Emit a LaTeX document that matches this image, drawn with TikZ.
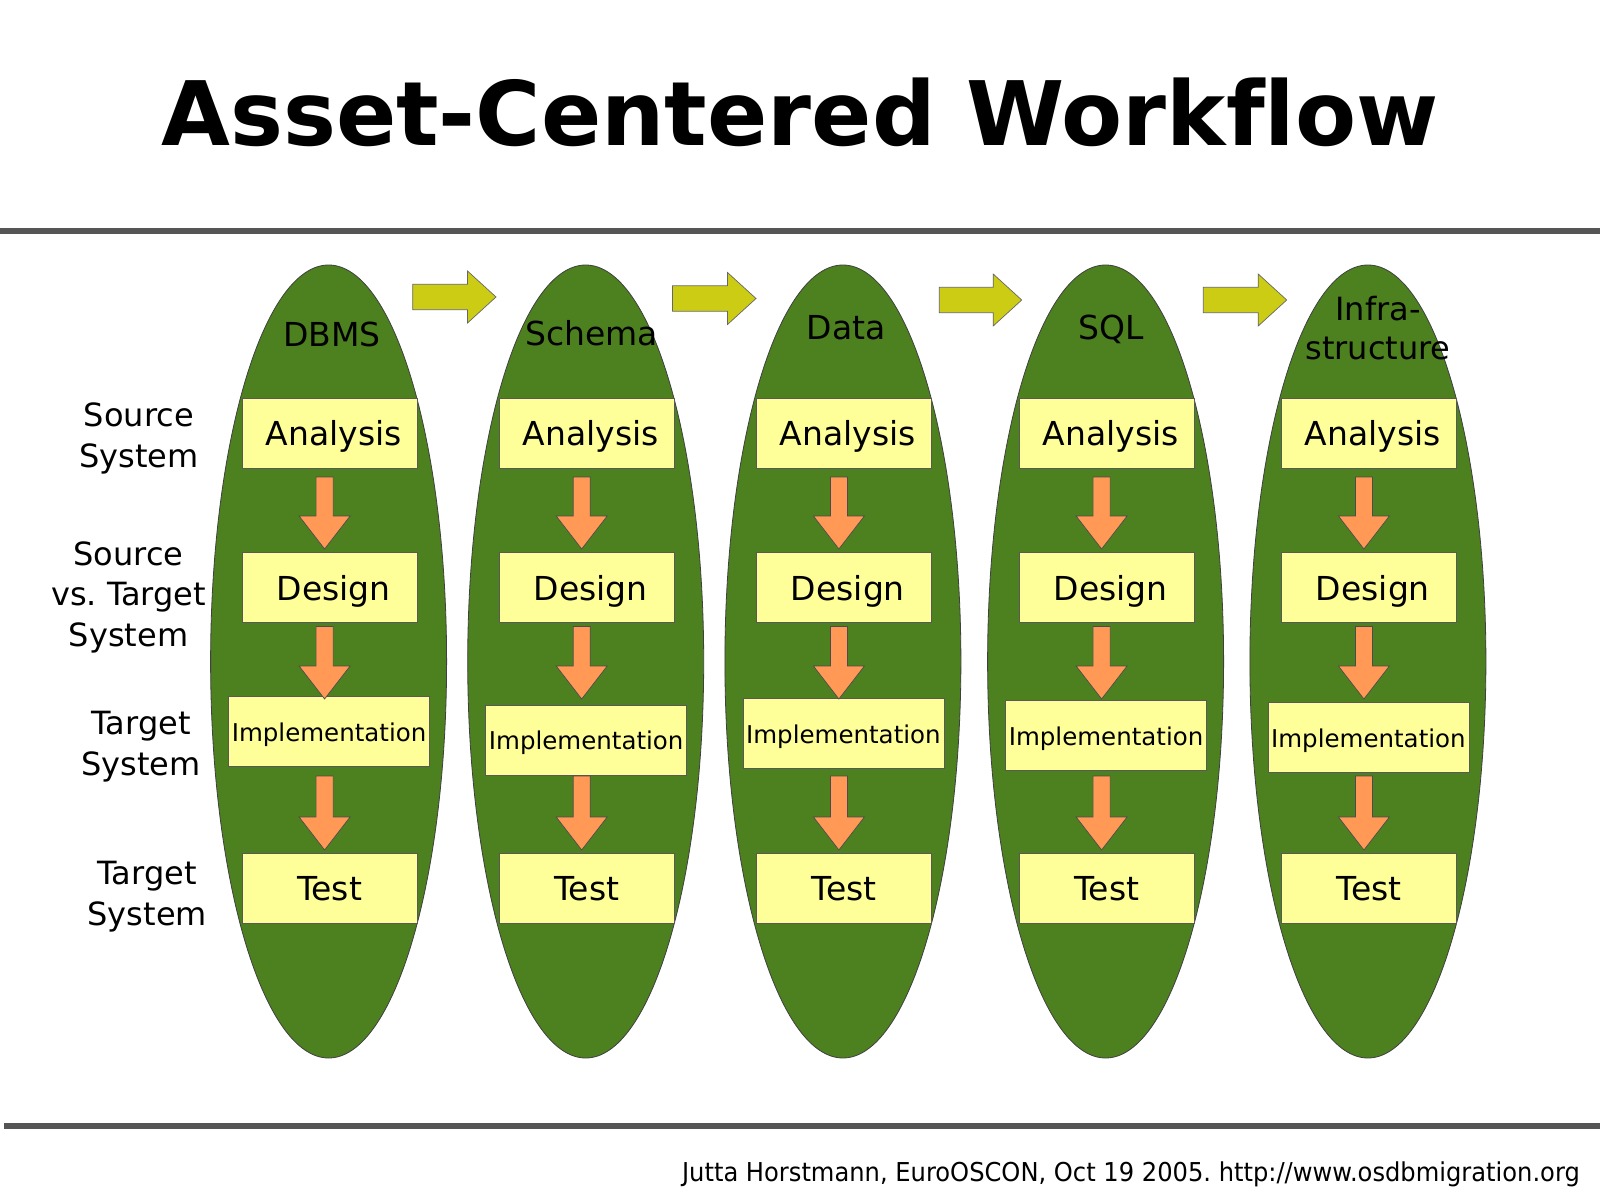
\documentclass[tikz,border=0pt]{standalone}
\usepackage{fontspec}
\setmainfont[Ligatures=NoCommon]{DejaVu Sans}
\newfontfamily\footfont[FakeStretch=0.93]{DejaVu Sans}
\usetikzlibrary{shapes.geometric,calc}
\frenchspacing
\definecolor{leaf}{RGB}{77,128,31}
\definecolor{boxyellow}{RGB}{255,255,153}
\definecolor{arrorange}{RGB}{255,153,85}
\definecolor{arrolive}{RGB}{204,204,20}
\definecolor{rulegray}{RGB}{85,85,85}
\newcommand\orangedown[2]{\path[orangeblk] let \p1=(#1), \p2=(#2) in
  (\x1-8.5pt,\y1) -- (\x1+8.5pt,\y1) -- (\x1+8.5pt,\y2+33pt) -- (\x1+25.5pt,\y2+33pt)
  -- (\x1,\y2) -- (\x1-25.5pt,\y2+33pt) -- (\x1-8.5pt,\y2+33pt) -- cycle;}
\newcommand\oliveright[2]{\path[oliveblk] let \p1=(#1), \p2=(#2) in
  (\x1,\y1+12.7pt) -- (\x2-28.5pt,\y1+12.7pt) -- (\x2-28.5pt,\y1+26pt) -- (\x2,\y1)
  -- (\x2-28.5pt,\y1-26pt) -- (\x2-28.5pt,\y1-12.7pt) -- (\x1,\y1-12.7pt) -- cycle;}
\begin{document}
\begin{tikzpicture}[x=1pt,y=-1pt,
  rulebar/.style={draw=rulegray,line width=5.5pt},
  asset/.style={ellipse,draw=black!75,line width=0.8pt,fill=leaf,minimum width=236pt,minimum height=793pt,inner sep=0pt},
  head/.style={font=\fontsize{33}{40}\selectfont,inner sep=0pt,align=center},
  stepbox/.style={draw=black!65,line width=0.8pt,fill=boxyellow,minimum width=175pt,minimum height=70pt,inner sep=0pt,
    font=\fontsize{33}{40}\selectfont,text height=25pt,text depth=0pt},
  implbox/.style={stepbox,minimum width=201pt,font=\fontsize{24.5}{30}\selectfont,text height=19pt},
  sidelabel/.style={font=\fontsize{32}{40.5}\selectfont,inner sep=0pt,align=center,anchor=base},
  orangeblk/.style={fill=arrorange,draw=black!70,line width=0.7pt},
  oliveblk/.style={fill=arrolive,draw=black!60,line width=0.7pt}]
\useasboundingbox[fill=white] (0,0) rectangle (1600,1201);

\node[font=\fontsize{89}{100}\selectfont\bfseries,anchor=base,inner sep=0pt] (title) at (800,146) {Asset-Centered Workflow};
\draw[rulebar] (0,231) -- (1600,231);
\draw[rulebar] (4,1126) -- (1600,1126);
\node[font=\footfont\fontsize{26}{30}\selectfont,anchor=base east,inner sep=0pt] (foot) at (1580,1181)
  {Jutta Horstmann, EuroOSCON, Oct 19 2005. http://www.osdbmigration.org};

% side labels
\node[sidelabel] (l1) at (138.8,467.3) {Source\\System};
\node[sidelabel] (l2) at (128.6,646) {Source\\vs. Target\\System};
\node[sidelabel] (l3) at (141.1,775) {Target\\System};
\node[sidelabel] (l4) at (147.2,925) {Target\\System};

% olive arrows between assets
\coordinate (o1s) at (412.7,297);   \coordinate (o1t) at (496,297);
\coordinate (o2s) at (672.5,298.5); \coordinate (o2t) at (756,298.5);
\coordinate (o3s) at (939.3,300);   \coordinate (o3t) at (1021.7,300);
\coordinate (o4s) at (1203.3,300);  \coordinate (o4t) at (1286.7,300);
\foreach \j in {1,...,4} {\oliveright{o\j s}{o\j t}}

\foreach \i/\cx/\iy in {1/328.6/731.7,2/585.7/740.2,3/842.9/733.7,4/1105.6/735.5,5/1367.9/737.5} {
  \node[asset] (e\i) at (\cx,661.5) {};
  \node[stepbox] (an\i) at (\cx+1,433) {\hspace*{8pt}Analysis};
  \node[stepbox] (de\i) at (\cx+1,587.75) {\hspace*{8pt}Design};
  \node[implbox] (im\i) at (\cx+0.5,\iy) {Implementation};
  \node[stepbox] (te\i) at (\cx+1,888) {Test};
  \coordinate (p\i a) at (\cx-4,477);   \coordinate (q\i a) at (\cx-4,549);
  \coordinate (p\i b) at (\cx-4,626.5); \coordinate (q\i b) at (\cx-4,699);
  \coordinate (p\i c) at (\cx-4,776);   \coordinate (q\i c) at (\cx-4,850);
  \orangedown{p\i a}{q\i a}
  \orangedown{p\i b}{q\i b}
  \orangedown{p\i c}{q\i c}
}

% asset titles
\node[head,anchor=base] (h1) at (331.8,346.7) {DBMS};
\node[head,anchor=base] (h2) at (591.7,345) {Schema};
\node[head,anchor=base] (h3) at (846,339.5) {Data};
\node[head,anchor=base] (h4) at (1111,339.3) {SQL};
\node[head,anchor=base,font=\fontsize{32}{39.3}\selectfont] (h5) at (1378,359.3) {Infra-\\structure};
\end{tikzpicture}
\end{document}
